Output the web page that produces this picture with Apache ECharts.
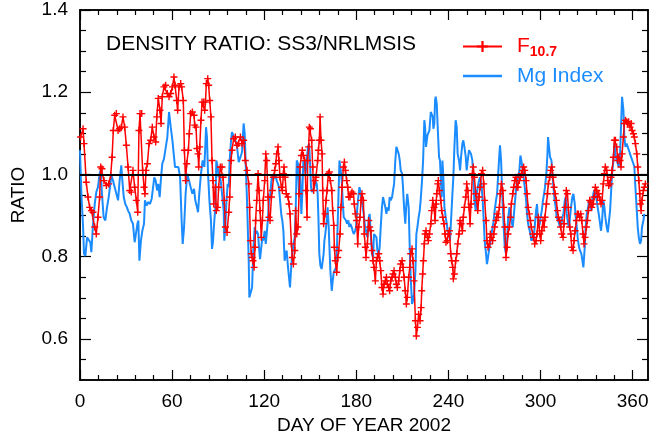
<!DOCTYPE html>
<html>
<head>
<meta charset="utf-8">
<script src="https://cdn.jsdelivr.net/npm/echarts@6/dist/echarts.min.js"></script>
<style>
  html, body { margin: 0; padding: 0; background: #fff; }
  #main { width: 665px; height: 434px; }
</style>
</head>
<body>
<!-- density ratio SS3 / NRLMSIS, 2002 -->
<div id="main"></div>
<script>
// [day of year, ratio]
var f107Ratio = [
  [0.4,1.091],[2.0,1.111],[2.6,1.075],[4.1,0.981],[5.2,0.945],[6.3,0.920],[7.4,0.912],[8.5,0.908],[9.6,0.872],[10.6,0.855],
  [11.7,0.896],[12.8,0.945],[13.5,1.018],[14.3,1.014],[15.6,0.985],[17.2,0.973],[18.7,0.977],[20.0,0.998],[20.9,1.042],[21.7,1.107],
  [22.6,1.144],[23.7,1.148],[24.8,1.107],[25.8,1.111],[26.9,1.115],[28.0,1.140],[29.1,1.115],[30.2,1.071],[31.3,1.018],[32.4,0.961],
  [33.4,0.957],[34.5,1.010],[35.6,0.969],[36.7,0.937],[37.6,0.908],[38.4,1.107],[39.1,1.148],[40.2,1.148],[40.8,1.010],[41.7,0.969],
  [42.3,0.953],[43.0,1.010],[43.9,1.026],[45.0,1.075],[46.0,1.083],[47.1,1.115],[48.2,1.091],[49.3,1.079],[50.0,1.140],[51.0,1.185],
  [52.1,1.156],[52.8,1.124],[53.6,1.189],[54.7,1.213],[55.8,1.217],[56.9,1.197],[58.0,1.189],[59.1,1.197],[60.2,1.213],[61.2,1.237],
  [61.9,1.217],[63.0,1.180],[63.6,1.156],[64.5,1.213],[65.6,1.221],[66.2,1.213],[67.3,1.180],[68.0,1.059],[68.8,0.985],[69.5,1.026],
  [70.6,1.059],[71.2,1.099],[72.1,1.148],[73.2,1.152],[74.3,1.144],[74.7,1.120],[75.6,1.115],[76.2,1.063],[76.9,1.050],[77.3,1.018],
  [78.0,1.067],[78.8,1.132],[79.5,1.176],[80.6,1.176],[81.2,1.156],[81.7,1.176],[82.3,1.221],[83.2,1.233],[83.8,1.217],[84.5,1.180],
  [85.3,1.140],[86.0,1.034],[86.6,0.985],[87.1,0.928],[88.2,0.969],[88.8,0.912],[89.7,0.920],[90.3,0.969],[91.4,1.018],[92.5,1.018],
  [93.2,0.993],[94.0,0.937],[94.7,0.872],[95.8,0.859],[96.9,0.908],[97.5,0.945],[98.4,1.034],[99.0,1.059],[100.1,1.087],[101.2,1.091],
  [102.3,1.071],[103.4,1.075],[104.5,1.091],[105.5,1.075],[106.6,1.083],[107.7,1.034],[108.8,1.010],[109.9,0.977],[110.5,0.920],[111.0,0.839],
  [111.6,0.807],[112.1,0.798],[112.7,0.790],[113.4,0.774],[114.0,0.823],[114.4,0.888],[115.1,0.937],[116.0,1.002],[116.6,0.961],[117.3,0.912],
  [118.1,0.847],[118.8,0.888],[119.4,0.937],[120.3,0.985],[121.0,1.050],[121.6,1.034],[122.5,0.945],[123.1,0.896],[123.8,0.888],[124.7,0.945],
  [125.3,0.961],[126.0,0.993],[126.8,1.010],[127.5,1.026],[128.1,1.050],[129.0,1.067],[129.6,1.034],[130.3,0.993],[131.2,0.969],[131.8,0.961],
  [132.5,1.002],[132.9,1.018],[133.6,0.993],[134.4,0.953],[135.5,0.945],[136.2,0.928],[136.8,0.904],[137.7,0.831],[138.3,0.798],[139.0,0.782],
  [139.9,0.815],[140.5,0.912],[141.2,0.855],[142.0,0.872],[142.7,0.953],[143.3,1.018],[144.2,1.046],[144.8,1.059],[145.5,1.046],[146.4,1.034],
  [147.2,0.961],[147.9,0.896],[148.3,1.034],[149.0,1.067],[149.4,1.115],[150.1,1.111],[150.9,1.083],[151.6,1.018],[152.2,0.961],[153.1,0.985],
  [153.7,0.993],[154.8,1.034],[155.3,1.059],[155.9,1.083],[156.4,1.140],[157.0,1.083],[157.7,1.050],[158.1,0.961],[158.7,0.880],[159.6,0.904],
  [160.3,0.937],[160.9,0.961],[161.8,1.002],[162.4,1.006],[163.1,0.985],[164.0,0.961],[164.6,0.912],[165.3,0.876],[165.7,0.823],[166.3,0.790],
  [167.2,0.762],[167.9,0.798],[168.5,0.815],[169.4,0.855],[170.0,0.920],[170.7,0.969],[171.6,1.018],[172.2,1.030],[172.9,1.010],[173.7,0.985],
  [174.4,0.969],[175.0,0.945],[175.9,0.945],[176.6,0.953],[177.2,0.957],[178.1,0.953],[178.7,0.928],[179.4,0.904],[180.2,0.888],[180.9,0.831],
  [181.5,0.872],[182.4,0.896],[183.1,0.937],[183.7,0.953],[184.6,0.937],[185.2,0.855],[185.9,0.823],[186.3,0.798],[187.2,0.831],[188.1,0.888],
  [188.7,0.872],[189.4,0.863],[190.2,0.815],[190.9,0.790],[191.5,0.774],[192.4,0.741],[193.1,0.790],[193.7,0.798],[194.6,0.807],[195.2,0.790],
  [195.9,0.766],[196.7,0.725],[197.4,0.709],[198.0,0.733],[198.9,0.741],[199.6,0.750],[200.2,0.733],[201.1,0.725],[201.7,0.717],[202.4,0.741],
  [203.3,0.750],[203.9,0.758],[204.6,0.766],[205.4,0.750],[206.1,0.733],[206.7,0.725],[207.6,0.741],[208.3,0.766],[208.9,0.782],[209.8,0.790],
  [210.4,0.774],[211.1,0.750],[211.9,0.717],[212.6,0.685],[213.2,0.701],[214.1,0.750],[214.8,0.774],[215.4,0.807],[216.3,0.819],[216.9,0.790],
  [217.6,0.741],[218.5,0.644],[219.1,0.607],[219.8,0.628],[220.6,0.660],[221.5,0.644],[222.2,0.676],[222.6,0.717],[223.2,0.758],[223.7,0.790],
  [224.3,0.831],[224.8,0.855],[225.4,0.863],[226.3,0.847],[226.9,0.839],[227.6,0.855],[228.5,0.880],[229.1,0.912],[229.8,0.937],[230.6,0.920],
  [231.3,0.888],[231.9,0.928],[232.4,0.953],[233.0,0.977],[233.4,0.985],[234.1,0.961],[235.0,0.937],[235.6,0.912],[236.3,0.896],[237.1,0.880],
  [237.8,0.855],[238.4,0.835],[239.3,0.839],[240.0,0.855],[240.6,0.863],[241.5,0.807],[242.1,0.790],[242.8,0.774],[243.2,0.746],[243.9,0.758],
  [244.7,0.790],[245.4,0.807],[246.0,0.831],[246.9,0.855],[247.6,0.888],[248.2,0.880],[249.1,0.863],[249.7,0.896],[250.4,0.920],[251.3,0.945],
  [251.9,0.977],[252.6,0.961],[253.4,0.920],[254.1,0.880],[254.7,0.928],[255.6,1.002],[256.2,1.018],[256.9,0.993],[257.8,0.953],[258.4,0.937],
  [259.1,0.912],[259.9,0.945],[260.6,0.969],[261.5,1.002],[262.3,1.010],[263.0,0.977],[263.6,0.937],[264.5,0.888],[265.1,0.839],[265.8,0.823],
  [266.7,0.831],[267.3,0.855],[268.0,0.847],[268.8,0.839],[269.5,0.855],[270.1,0.872],[271.0,0.888],[271.7,0.904],[272.3,0.896],[273.2,0.920],
  [273.8,0.953],[274.5,0.977],[275.4,0.961],[276.0,0.920],[276.7,0.872],[277.5,0.798],[278.2,0.823],[278.8,0.855],[279.7,0.872],[280.4,0.896],
  [281.0,0.928],[281.9,0.953],[282.5,0.969],[283.2,0.985],[284.0,0.993],[284.7,0.969],[285.3,0.969],[286.2,0.985],[286.9,0.993],[287.5,1.002],
  [288.4,1.010],[289.0,1.018],[289.7,1.010],[290.6,0.985],[291.2,0.953],[291.9,0.920],[292.7,0.904],[293.4,0.888],[294.0,0.872],[294.9,0.855],
  [295.5,0.847],[296.2,0.831],[297.1,0.839],[297.7,0.855],[298.6,0.896],[299.5,0.855],[300.1,0.839],[300.8,0.863],[301.6,0.888],[302.3,0.872],
  [302.9,0.896],[303.8,0.928],[304.5,0.953],[305.1,0.977],[306.0,0.993],[306.6,1.010],[307.3,1.018],[308.2,0.993],[308.8,0.969],[309.5,0.953],
  [310.3,0.937],[311.0,0.912],[311.6,0.896],[312.5,0.888],[313.1,0.872],[313.8,0.855],[314.7,0.847],[315.3,0.880],[316.0,0.920],[316.8,0.961],
  [317.5,0.953],[318.1,0.920],[319.0,0.872],[319.7,0.855],[320.3,0.823],[321.2,0.815],[321.8,0.839],[322.5,0.863],[323.4,0.888],[324.0,0.904],
  [324.7,0.904],[325.5,0.896],[326.2,0.904],[326.8,0.888],[327.7,0.855],[328.3,0.831],[329.0,0.847],[329.9,0.872],[330.5,0.888],[331.2,0.912],
  [332.0,0.937],[332.7,0.933],[333.3,0.920],[334.2,0.928],[334.9,0.945],[335.7,0.969],[336.6,0.961],[337.2,0.945],[337.9,0.953],[338.8,0.937],
  [339.4,0.928],[340.1,0.937],[340.9,0.977],[341.6,1.002],[342.2,1.018],[343.1,1.010],[343.8,0.985],[344.4,0.973],[345.3,0.977],[345.9,0.993],
  [346.6,1.010],[347.5,1.042],[348.1,1.083],[348.8,1.083],[349.6,1.067],[350.3,1.034],[350.9,1.042],[351.8,1.034],[352.4,1.018],[353.1,1.050],
  [354.0,1.091],[354.6,1.124],[355.3,1.132],[356.1,1.128],[356.8,1.124],[357.4,1.128],[358.3,1.115],[359.0,1.124],[359.6,1.107],[360.5,1.099],
  [361.1,1.091],[361.8,1.075],[362.7,1.050],[363.3,1.018],[364.0,0.985],[364.6,0.953],[365.0,0.928],[365.5,0.912],[366.1,0.937],[367.0,0.961],
  [367.6,0.969],[368.3,0.977]
];

var mgRatio = [
  [0.0,1.059],[0.9,0.953],[2.0,0.872],[2.6,0.807],[3.5,0.802],[4.6,0.847],[5.7,0.851],[6.7,0.835],[7.4,0.811],[8.5,0.880],
  [9.6,0.928],[10.6,0.957],[11.7,0.969],[12.8,1.002],[13.5,1.010],[14.3,0.953],[15.4,0.896],[16.5,0.888],[17.6,0.920],[18.7,0.945],
  [19.8,0.977],[20.4,0.998],[21.5,0.985],[22.6,0.969],[23.7,0.953],[24.8,0.937],[25.8,0.985],[26.9,1.022],[27.6,0.985],[28.5,0.945],
  [29.5,0.928],[30.6,0.920],[31.3,0.912],[32.4,0.904],[33.4,0.888],[34.5,0.880],[35.6,0.835],[36.7,0.839],[37.4,0.880],[38.0,0.888],
  [38.7,0.790],[39.1,0.786],[39.7,0.839],[40.6,0.863],[41.7,0.880],[42.3,0.937],[43.4,0.924],[44.5,0.933],[45.6,0.928],[46.7,0.941],
  [47.8,0.937],[48.4,0.993],[49.3,0.985],[50.2,0.961],[51.0,0.977],[51.9,0.945],[52.8,0.993],[53.6,1.026],[54.7,1.038],[55.8,1.042],
  [56.9,1.091],[58.0,1.152],[59.1,1.115],[60.2,1.083],[61.2,1.079],[61.9,1.018],[63.0,1.014],[64.1,1.018],[65.2,0.993],[66.2,0.888],
  [66.9,0.831],[67.8,0.872],[68.8,0.953],[69.9,1.002],[71.0,1.002],[72.1,0.969],[73.2,0.953],[74.3,0.965],[75.1,0.937],[76.2,0.920],
  [76.9,0.908],[77.7,0.953],[78.8,1.002],[79.9,1.034],[81.0,1.018],[81.7,1.075],[82.1,1.115],[82.7,1.091],[83.4,1.002],[84.3,0.937],
  [85.3,0.888],[86.0,0.819],[86.6,0.835],[87.5,0.888],[88.2,0.920],[88.8,1.034],[89.7,1.018],[90.3,0.993],[91.0,1.002],[91.9,0.977],
  [92.5,0.953],[93.6,0.912],[94.0,0.839],[94.7,0.872],[95.3,0.928],[96.2,0.977],[96.9,0.969],[97.5,1.034],[98.4,1.083],[99.0,1.103],
  [100.1,1.107],[101.2,1.083],[102.3,1.067],[103.4,1.030],[104.5,1.042],[105.5,1.054],[106.6,1.124],[107.3,1.099],[108.1,1.010],[108.8,0.937],
  [109.9,0.790],[110.3,0.701],[111.0,0.697],[112.1,0.725],[112.9,0.815],[113.8,0.872],[114.4,0.855],[115.1,0.863],[116.0,0.855],[116.6,0.823],
  [117.3,0.794],[118.1,0.823],[118.8,0.847],[119.4,0.839],[120.3,0.863],[121.0,0.831],[121.6,0.855],[122.5,0.896],[123.1,0.937],[123.8,0.945],
  [124.7,0.985],[125.3,0.998],[126.0,0.989],[126.8,0.993],[127.5,0.998],[128.1,0.985],[129.0,0.977],[129.6,0.969],[130.3,0.937],[131.2,0.900],
  [131.8,0.888],[132.5,0.863],[133.3,0.790],[134.0,0.807],[134.6,0.815],[135.5,0.774],[136.2,0.770],[136.8,0.725],[137.7,0.782],[138.3,0.807],
  [139.0,0.831],[139.9,0.847],[140.5,0.912],[141.2,1.034],[142.0,1.026],[142.7,0.953],[143.3,1.010],[144.2,0.904],[144.8,0.953],[145.5,1.034],
  [146.4,1.022],[147.0,1.002],[147.7,1.034],[148.5,1.067],[149.2,1.075],[149.8,1.034],[150.5,0.969],[151.1,0.957],[152.0,0.953],[152.7,0.969],
  [153.3,0.985],[154.2,0.977],[154.8,0.953],[155.3,0.896],[155.9,0.807],[156.6,0.778],[157.4,0.770],[158.1,0.774],[158.7,0.807],[159.2,0.839],
  [159.8,0.855],[160.7,0.888],[161.3,0.920],[162.0,0.872],[162.4,0.831],[163.1,0.766],[164.0,0.717],[164.6,0.741],[165.3,0.762],[166.1,0.766],
  [166.8,0.774],[167.4,0.823],[168.3,0.937],[169.0,1.034],[169.6,1.018],[170.5,0.985],[171.1,0.937],[171.8,0.896],[172.6,0.896],[173.3,0.888],
  [173.9,0.880],[174.8,0.888],[175.5,0.872],[176.1,0.880],[177.0,0.872],[177.6,0.863],[178.3,0.855],[179.2,0.863],[179.8,0.872],[180.5,0.912],
  [181.3,0.945],[182.0,0.969],[182.6,0.961],[183.5,0.937],[184.2,0.920],[184.8,0.904],[185.7,0.872],[186.3,0.863],[187.2,0.847],[188.1,0.896],
  [188.7,0.904],[189.4,0.855],[190.2,0.807],[190.9,0.798],[191.5,0.855],[192.4,0.855],[193.1,0.847],[193.7,0.815],[194.6,0.807],[195.2,0.823],
  [195.9,0.872],[196.7,0.920],[197.4,0.945],[198.0,0.949],[198.9,0.920],[199.6,0.904],[200.2,0.920],[201.1,0.912],[201.7,0.945],[202.4,0.937],
  [203.3,0.945],[203.9,0.961],[204.6,0.977],[205.4,1.034],[206.1,1.067],[206.7,1.063],[207.6,1.050],[208.3,1.034],[208.9,1.010],[209.8,1.002],
  [210.4,0.969],[211.1,0.920],[211.9,0.880],[212.6,0.928],[213.2,0.953],[214.1,0.920],[214.8,0.823],[215.4,0.750],[216.3,0.685],[216.9,0.693],
  [217.6,0.709],[218.5,0.766],[219.1,0.855],[219.8,0.872],[220.6,0.896],[221.3,0.912],[221.9,0.937],[222.8,0.985],[223.5,1.034],[224.3,1.132],
  [224.8,1.115],[225.4,1.067],[226.3,1.095],[226.9,1.099],[227.6,1.107],[228.5,1.152],[229.1,1.156],[229.8,1.140],[230.2,1.111],[230.8,1.124],
  [231.3,1.180],[231.7,1.189],[232.4,1.172],[233.0,1.115],[233.9,1.042],[234.5,1.034],[235.0,0.993],[235.6,0.945],[236.1,1.034],[236.7,0.993],
  [237.4,0.920],[238.2,0.896],[238.9,0.880],[239.5,0.863],[240.4,0.855],[241.0,0.839],[241.7,0.888],[242.6,0.953],[243.2,0.993],[243.9,1.067],
  [244.7,1.132],[245.4,1.115],[246.0,1.050],[246.9,1.034],[247.6,1.010],[248.2,1.042],[249.1,1.075],[249.7,1.083],[250.4,1.067],[251.3,1.042],
  [251.9,1.010],[252.6,1.034],[253.4,1.059],[254.1,1.063],[254.7,1.050],[255.6,1.034],[256.2,0.993],[256.9,0.937],[257.8,0.912],[258.4,0.953],
  [259.1,0.969],[259.9,0.985],[260.6,0.993],[261.5,0.977],[262.3,0.937],[263.0,0.888],[263.6,0.839],[264.5,0.807],[265.1,0.782],[265.8,0.798],
  [266.7,0.823],[267.3,0.835],[268.0,0.855],[268.8,0.872],[269.5,0.888],[270.1,0.912],[271.0,0.937],[271.7,0.953],[272.3,0.993],[273.2,1.050],
  [273.6,1.071],[274.3,1.034],[274.9,0.969],[275.6,0.904],[276.0,0.872],[276.7,0.823],[277.5,0.807],[278.2,0.839],[278.8,0.888],[279.7,0.920],
  [280.4,0.912],[281.0,0.888],[281.9,0.872],[282.5,0.896],[283.2,0.928],[284.0,0.961],[284.7,0.985],[285.3,0.993],[286.2,1.010],[286.9,1.046],
  [287.5,1.034],[288.4,1.010],[289.0,0.993],[289.7,0.969],[290.6,0.937],[291.2,0.904],[291.9,0.880],[292.7,0.880],[293.4,0.855],[294.0,0.839],
  [294.9,0.835],[295.5,0.847],[296.2,0.872],[297.1,0.912],[297.7,0.928],[298.6,0.872],[299.5,0.880],[300.1,0.896],[300.8,0.912],[301.6,0.937],
  [302.3,0.953],[302.9,0.969],[303.8,1.002],[304.5,1.050],[304.9,1.091],[305.5,1.067],[306.2,1.042],[307.1,1.034],[307.7,1.002],[308.4,0.969],
  [309.2,0.937],[309.9,0.920],[310.5,0.896],[311.4,0.888],[312.1,0.880],[312.7,0.872],[313.6,0.880],[314.2,0.896],[314.9,0.904],[315.8,0.937],
  [316.4,0.945],[317.1,0.904],[317.9,0.880],[318.6,0.872],[319.2,0.896],[320.1,0.928],[320.7,0.945],[321.4,0.953],[322.3,0.928],[322.9,0.896],
  [323.6,0.872],[324.4,0.839],[325.1,0.823],[325.7,0.815],[326.6,0.807],[327.3,0.790],[327.9,0.774],[328.8,0.823],[329.4,0.872],[330.1,0.904],
  [331.0,0.920],[331.6,0.937],[332.3,0.928],[333.1,0.912],[333.8,0.937],[334.4,0.953],[334.9,0.961],[335.7,0.953],[336.6,0.937],[337.2,0.920],
  [337.9,0.904],[338.8,0.880],[339.4,0.863],[340.1,0.888],[340.9,0.937],[341.6,0.920],[342.2,0.896],[343.1,0.872],[343.8,0.859],[344.4,0.880],
  [345.3,0.912],[345.9,0.953],[346.6,1.002],[347.5,1.034],[348.1,1.075],[348.8,1.050],[349.6,1.034],[350.3,1.026],[350.9,1.018],[351.8,1.050],
  [352.4,1.115],[353.1,1.189],[354.0,1.156],[354.6,1.091],[355.3,1.067],[356.1,1.075],[356.8,1.067],[357.4,1.063],[358.3,1.050],[359.0,1.042],
  [359.6,1.038],[360.5,1.026],[361.1,1.018],[361.8,0.969],[362.7,0.912],[363.3,0.872],[364.0,0.847],[364.8,0.831],[365.5,0.839],[366.1,0.872],
  [367.0,0.888],[367.6,0.904]
];

// tick positions
var xMajorTicks = [0, 60, 120, 180, 240, 300, 360];
var xMinorTicks = [12, 24, 36, 48, 72, 84, 96, 108, 132, 144, 156, 168, 192, 204, 216, 228, 252, 264, 276, 288, 312, 324, 336, 348];
var yMajorTicks = [0.6, 0.8, 1.0, 1.2, 1.4];
var yMinorTicks = [0.55, 0.65, 0.7, 0.75, 0.85, 0.9, 0.95, 1.05, 1.1, 1.15, 1.25, 1.3, 1.35];

var FONT = "'Liberation Sans', Arial, sans-serif";
var RED = '#ff0000';
var BLUE = '#1a8cff';

// one side of the box: ticks point inward like the IDL plot
function frameAxis(dim, position, ticks, len, withLabels) {
  var ax = {
    type: 'value',
    position: position,
    min: dim === 'x' ? 0 : 0.5,
    max: dim === 'x' ? 370 : 1.4,
    axisLine: { show: true, onZero: false, lineStyle: { color: '#000', width: 1.5 } },
    axisTick: { show: true, inside: true, length: len, customValues: ticks,
                lineStyle: { color: '#000', width: 1.2 } },
    axisLabel: { show: false },
    splitLine: { show: false }
  };
  if (withLabels) {
    ax.axisLabel = {
      show: true, customValues: ticks, margin: 12,
      color: '#000', fontSize: 19, fontFamily: FONT,
      formatter: dim === 'x' ? '{value}' : function (v) { return v.toFixed(1); }
    };
    ax.nameLocation = 'middle';
    ax.nameTextStyle = { color: '#000', fontSize: 19, fontFamily: FONT };
    if (dim === 'x') {
      ax.name = 'DAY OF YEAR 2002';
      ax.nameGap = 33;
    } else {
      ax.name = 'RATIO';
      ax.nameGap = 52;
    }
  }
  return ax;
}

var chart = echarts.init(document.getElementById('main'));
chart.setOption({
  animation: false,
  backgroundColor: '#fff',
  grid: { left: 80, right: 17, top: 10, bottom: 54, containLabel: false, outerBoundsMode: 'none' },
  title: {
    text: 'DENSITY RATIO: SS3/NRLMSIS',
    left: 101, top: 29,
    textStyle: { color: '#000', fontSize: 21, fontWeight: 'normal', fontFamily: FONT }
  },
  legend: {
    left: 457, top: 31, orient: 'vertical',
    itemGap: 6, itemWidth: 39, itemHeight: 14,
    data: [
      { name: 'F10.7', textStyle: { color: RED } },
      { name: 'Mg Index', icon: 'path://M0,0H39V2.4H0Z', textStyle: { color: BLUE } }
    ],
    formatter: function (name) {
      return name === 'F10.7' ? '{f|F}{s|10.7}' : name;
    },
    textStyle: {
      fontSize: 21, fontFamily: FONT, padding: [0, 0, 0, 10],
      rich: {
        f: { fontSize: 21, color: RED, fontFamily: FONT },
        s: { fontSize: 14, color: RED, fontWeight: 'bold', fontFamily: FONT, padding: [12, 0, 0, 0] }
      }
    }
  },
  xAxis: [
    frameAxis('x', 'bottom', xMajorTicks, 10, true),
    frameAxis('x', 'bottom', xMinorTicks, 5, false),
    frameAxis('x', 'top', xMajorTicks, 10, false),
    frameAxis('x', 'top', xMinorTicks, 5, false)
  ],
  yAxis: [
    frameAxis('y', 'left', yMajorTicks, 11, true),
    frameAxis('y', 'left', yMinorTicks, 6, false),
    frameAxis('y', 'right', yMajorTicks, 11, false),
    frameAxis('y', 'right', yMinorTicks, 6, false)
  ],
  series: [
    {
      name: 'Mg Index',
      type: 'line',
      data: mgRatio,
      showSymbol: false,
      symbol: 'none',
      z: 2,
      lineStyle: { color: BLUE, width: 2 },
      itemStyle: { color: BLUE }
    },
    {
      name: 'F10.7',
      type: 'line',
      data: f107Ratio,
      symbol: 'path://M4,0H6V4H10V6H6V10H4V6H0V4H4Z',
      symbolSize: 7,
      showAllSymbol: true,
      z: 3,
      lineStyle: { color: RED, width: 1.5 },
      itemStyle: { color: RED },
      markLine: {
        silent: true,
        symbol: 'none',
        label: { show: false },
        lineStyle: { color: '#000', width: 2, type: 'solid' },
        data: [{ yAxis: 1.0 }]
      }
    }
  ]
});
</script>
</body>
</html>
